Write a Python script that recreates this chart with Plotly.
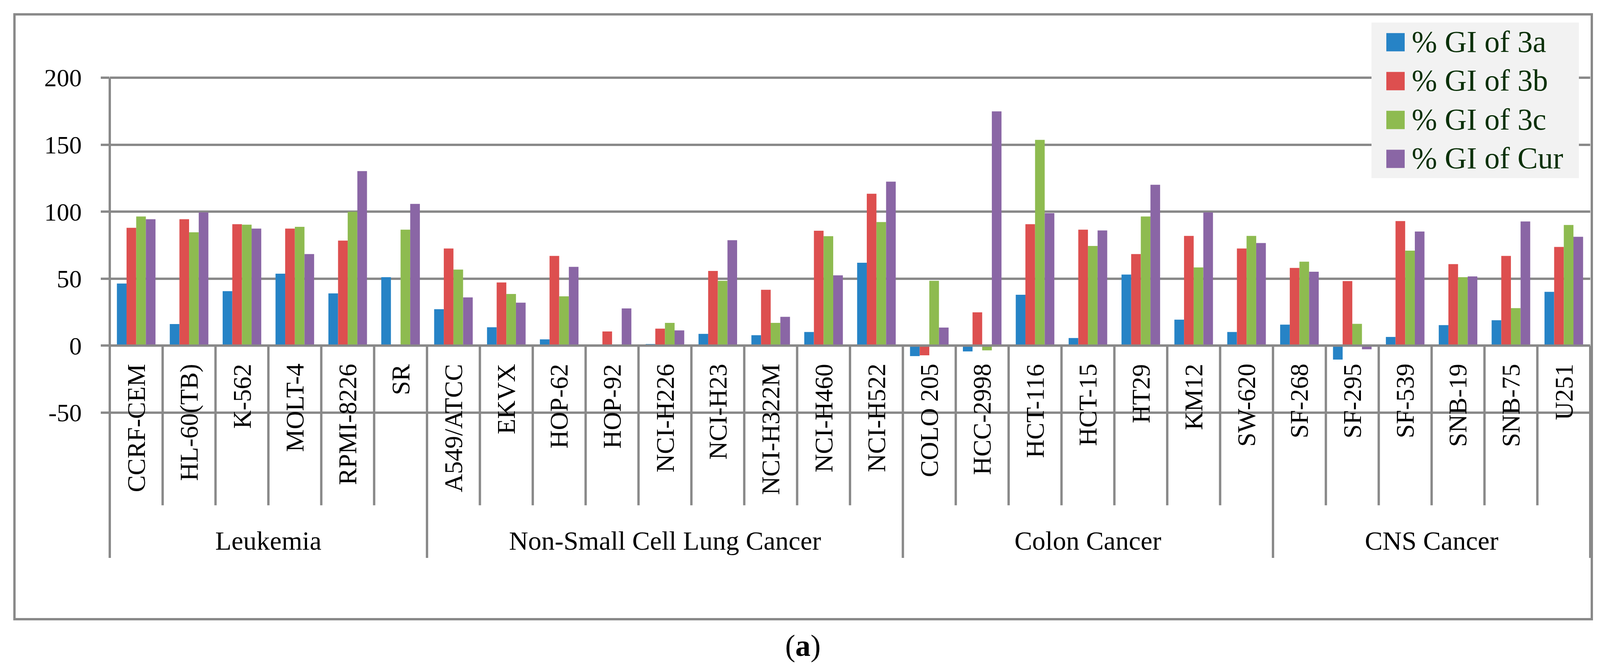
import plotly.graph_objects as go

# ---------------- data ----------------
cell_lines = ["CCRF-CEM", "HL-60(TB)", "K-562", "MOLT-4", "RPMI-8226", "SR",
              "A549/ATCC", "EKVX", "HOP-62", "HOP-92", "NCI-H226", "NCI-H23",
              "NCI-H322M", "NCI-H460", "NCI-H522",
              "COLO 205", "HCC-2998", "HCT-116", "HCT-15", "HT29", "KM12", "SW-620",
              "SF-268", "SF-295", "SF-539", "SNB-19", "SNB-75", "U251"]
groups = ["Leukemia", "Non-Small Cell Lung Cancer", "Colon Cancer", "CNS Cancer"]
group_sizes = [6, 9, 7, 6]

gi_3a = [46.4, 16.1, 40.7, 53.7, 39.0, 51.1,
         27.2, 13.7, 4.7, 0.0, 1.2, 8.8, 7.8, 10.2, 61.9,
         -7.8, -4.3, 38.0, 5.7, 53.1, 19.4, 10.2,
         15.7, -10.4, 6.5, 15.3, 19.0, 40.2]
gi_3b = [88.0, 94.4, 90.7, 87.4, 78.4, 0.0,
         72.5, 47.2, 67.0, 10.6, 12.7, 55.8, 41.7, 85.8, 113.4,
         -7.2, 24.9, 90.7, 86.6, 68.4, 81.9, 72.5,
         58.0, 48.2, 93.0, 60.9, 67.0, 73.7]
gi_3c = [96.4, 84.6, 90.3, 88.7, 99.9, 86.6,
         56.8, 38.6, 36.8, 0.0, 17.0, 48.4, 17.0, 81.7, 92.3,
         48.4, -3.5, 153.6, 74.4, 96.4, 58.4, 81.9,
         62.7, 16.3, 70.9, 51.1, 28.0, 90.1]
gi_cur = [94.4, 99.5, 87.4, 68.4, 130.3, 105.8,
          36.0, 32.1, 58.8, 27.8, 11.4, 78.7, 21.5, 52.5, 122.4,
          13.5, 174.9, 98.9, 86.0, 120.1, 99.5, 76.6,
          55.2, -2.7, 85.2, 51.7, 92.7, 81.3]

series_names = ["% GI of 3a", "% GI of 3b", "% GI of 3c", "% GI of Cur"]
series_values = [gi_3a, gi_3b, gi_3c, gi_cur]
series_colors = ["#2683C6", "#DD4F4F", "#8EBB50", "#8A66A5"]

y_ticks = [-50, 0, 50, 100, 150, 200]

# ---------------- layout helpers ----------------
W, H = 4111, 1711
ML, MR, MT, MB = 281, 40, 196.5, 651.5
FONT = "Liberation Serif"
GRID = "#898989"
LW = 6


def px(X):
    return (X - ML) / (W - ML - MR)


def py(Y):
    return (H - MB - Y) / (H - MT - MB)


fig = go.Figure()
for name, vals, col in zip(series_names, series_values, series_colors):
    fig.add_trace(go.Bar(x=cell_lines, y=vals, name=name,
                         marker=dict(color=col, line=dict(width=0)),
                         showlegend=False))

n = len(cell_lines)
shapes = []
annotations = []

# zero axis line above bars
shapes.append(dict(type="line", xref="paper", yref="y", x0=0, x1=1, y0=0, y1=0,
                   line=dict(color=GRID, width=LW), layer="above"))

# category separators
bounds_group = [0]
for s in group_sizes:
    bounds_group.append(bounds_group[-1] + s)
for b in range(n + 1):
    xb = b / n
    if b == 0:
        y0, y1 = py(198.6), py(1430)
    elif b in bounds_group:
        y0, y1 = py(886), py(1430)
    else:
        y0, y1 = py(886), py(1295)
    shapes.append(dict(type="line", xref="paper", yref="paper", x0=xb, x1=xb,
                       y0=y0, y1=y1, line=dict(color=GRID, width=LW), layer="above"))

# category labels
for c in cell_lines:
    annotations.append(dict(x=c, xref="x", y=py(930), yref="paper", text=c,
                            textangle=-90, showarrow=False, xanchor="center",
                            yanchor="top", font=dict(family=FONT, size=65, color="black")))

# group labels
for g, b0, b1 in zip(groups, bounds_group[:-1], bounds_group[1:]):
    annotations.append(dict(x=(b0 + b1) / 2 / n, xref="paper", y=py(1386), yref="paper",
                            text=g, showarrow=False, xanchor="center", yanchor="middle",
                            font=dict(family=FONT, size=68, color="black")))

# outer border
shapes.append(dict(type="rect", xref="paper", yref="paper",
                   x0=px(37), x1=px(4075), y0=py(36), y1=py(1587),
                   line=dict(color=GRID, width=LW), fillcolor="rgba(0,0,0,0)", layer="above"))

# legend (manual, large swatches)
shapes.append(dict(type="rect", xref="paper", yref="paper",
                   x0=px(3511), x1=px(4042), y0=py(57), y1=py(456),
                   line=dict(width=0), fillcolor="#F2F2F2", layer="above"))
for i, (name, col) in enumerate(zip(series_names, series_colors)):
    cy = 107.5 + i * 99.7
    shapes.append(dict(type="rect", xref="paper", yref="paper",
                       x0=px(3549), x1=px(3596), y0=py(cy - 23.5), y1=py(cy + 23.5),
                       line=dict(width=0), fillcolor=col, layer="above"))
    annotations.append(dict(x=px(3612), xref="paper", y=py(cy - 2), yref="paper",
                            text=name, showarrow=False, xanchor="left", yanchor="middle",
                            font=dict(family=FONT, size=78, color="#0A3008")))

# caption
annotations.append(dict(x=px(2055), xref="paper", y=py(1655), yref="paper",
                        text="(<b>a</b>)", showarrow=False, xanchor="center", yanchor="middle",
                        font=dict(family=FONT, size=78, color="black")))

fig.update_layout(
    width=W, height=H,
    margin=dict(l=ML, r=MR, t=MT, b=MB, pad=0),
    paper_bgcolor="white", plot_bgcolor="white",
    barmode="group", bargap=0.27, bargroupgap=0,
    shapes=shapes, annotations=annotations,
    font=dict(family=FONT, color="black"),
    xaxis=dict(type="category", range=[-0.5, n - 0.5], showgrid=False,
               showticklabels=False, ticks="", showline=False, zeroline=False),
    yaxis=dict(range=[-50.6, 200.6], tickvals=y_ticks, ticktext=[str(v) for v in y_ticks],
               showgrid=True, gridcolor=GRID, gridwidth=LW, zeroline=False,
               showline=False, ticks="outside", ticklen=22, tickwidth=LW, tickcolor=GRID,
               ticklabelstandoff=36,
               tickfont=dict(family=FONT, size=64, color="black")),
)

fig.write_html("out.html", config={"displayModeBar": False},
               post_script="document.body.style.margin='0';")
